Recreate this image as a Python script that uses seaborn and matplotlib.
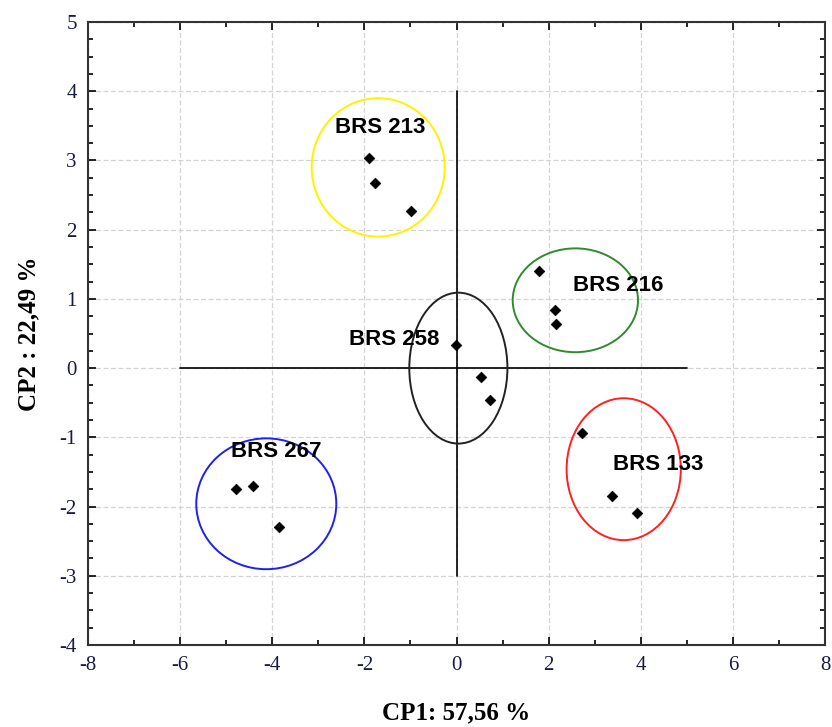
import numpy as np
import pandas as pd
import matplotlib.pyplot as plt
from matplotlib.patches import Ellipse
from matplotlib.ticker import MultipleLocator
import seaborn as sns

sns.set_theme(style="white")
plt.rcParams["font.family"] = ["Liberation Serif", "DejaVu Serif"]
plt.rcParams["axes.unicode_minus"] = False
plt.rcParams["text.color"] = "black"
plt.rcParams["axes.labelcolor"] = "black"

# scores per sample (CP1, CP2)
cp1 = [-1.90, -1.78, -0.98, 1.78, 2.13, 2.17, -0.02, 0.54, 0.72, 2.72, 3.37, 3.91, -4.78, -4.41, -3.85]
cp2 = [3.03, 2.67, 2.27, 1.40, 0.84, 0.64, 0.33, -0.13, -0.46, -0.94, -1.85, -2.10, -1.75, -1.70, -2.30]
group = ["BRS 213"] * 3 + ["BRS 216"] * 3 + ["BRS 258"] * 3 + ["BRS 133"] * 3 + ["BRS 267"] * 3

# cluster ellipses
ell_names = ["BRS 213", "BRS 216", "BRS 258", "BRS 133", "BRS 267"]
ell_cx = [-1.70, 2.58, 0.04, 3.63, -4.13]
ell_cy = [2.90, 0.98, 0.00, -1.46, -1.96]
ell_w = [2.89, 2.72, 2.13, 2.48, 3.04]
ell_h = [2.00, 1.50, 2.18, 2.05, 1.89]
ell_colors = ["#FFF200", "#2E8B2E", "#222222", "#FF2020", "#2020EE"]

# label positions
lab_x = [-1.65, 3.52, -1.35, 4.37, -3.91]
lab_y = [3.48, 1.20, 0.42, -1.39, -1.20]

df = pd.DataFrame({"cp1": cp1, "cp2": cp2, "group": group})

fig = plt.figure(figsize=(8.32, 7.27), dpi=100)
ax = fig.add_axes([0.1058, 0.1128, 0.8858, 0.8569])

ax.set_xlim(-8, 8)
ax.set_ylim(-4, 5)
ax.xaxis.set_major_locator(MultipleLocator(2))
ax.xaxis.set_minor_locator(MultipleLocator(1))
ax.yaxis.set_major_locator(MultipleLocator(1))
ax.yaxis.set_minor_locator(MultipleLocator(0.25))
ax.grid(True, which="major", color="#d4d4d4", linestyle=(0, (4, 2)), linewidth=0.9)
ax.set_axisbelow(True)

# reference axes through the origin
ax.plot([-6, 5], [0, 0], color="black", linewidth=1.2, zorder=2)
ax.plot([0, 0], [-3, 4], color="black", linewidth=1.2, zorder=2)

for cx, cy, w, h, c in zip(ell_cx, ell_cy, ell_w, ell_h, ell_colors):
    ax.add_patch(Ellipse((cx, cy), w, h, fill=False, edgecolor=c, linewidth=1.4, zorder=3))

sns.scatterplot(data=df, x="cp1", y="cp2", marker="D", color="black", s=30,
                edgecolor="black", legend=False, ax=ax, zorder=4)

for name, x, y in zip(ell_names, lab_x, lab_y):
    ax.text(x, y, name, ha="center", va="center", fontsize=16, fontweight="bold",
            color="black", family=["Liberation Sans", "DejaVu Sans"], zorder=5)

ax.tick_params(which="both", direction="in", top=True, right=True, bottom=True, left=True,
               colors="black", labelsize=15, pad=8)
ax.tick_params(which="major", length=6, width=1.2)
ax.tick_params(which="minor", length=3.5, width=1.2)
for lab in ax.get_xticklabels() + ax.get_yticklabels():
    lab.set_color("#1a1a4a")
for s in ax.spines.values():
    s.set_color("#333333")
    s.set_linewidth(1.5)

ax.set_xlabel("CP1: 57,56 %", fontsize=18, fontweight="bold", labelpad=19)
ax.set_ylabel("CP2 : 22,49 %", fontsize=18, fontweight="bold", labelpad=14)

plt.savefig("out.png", dpi=100)
